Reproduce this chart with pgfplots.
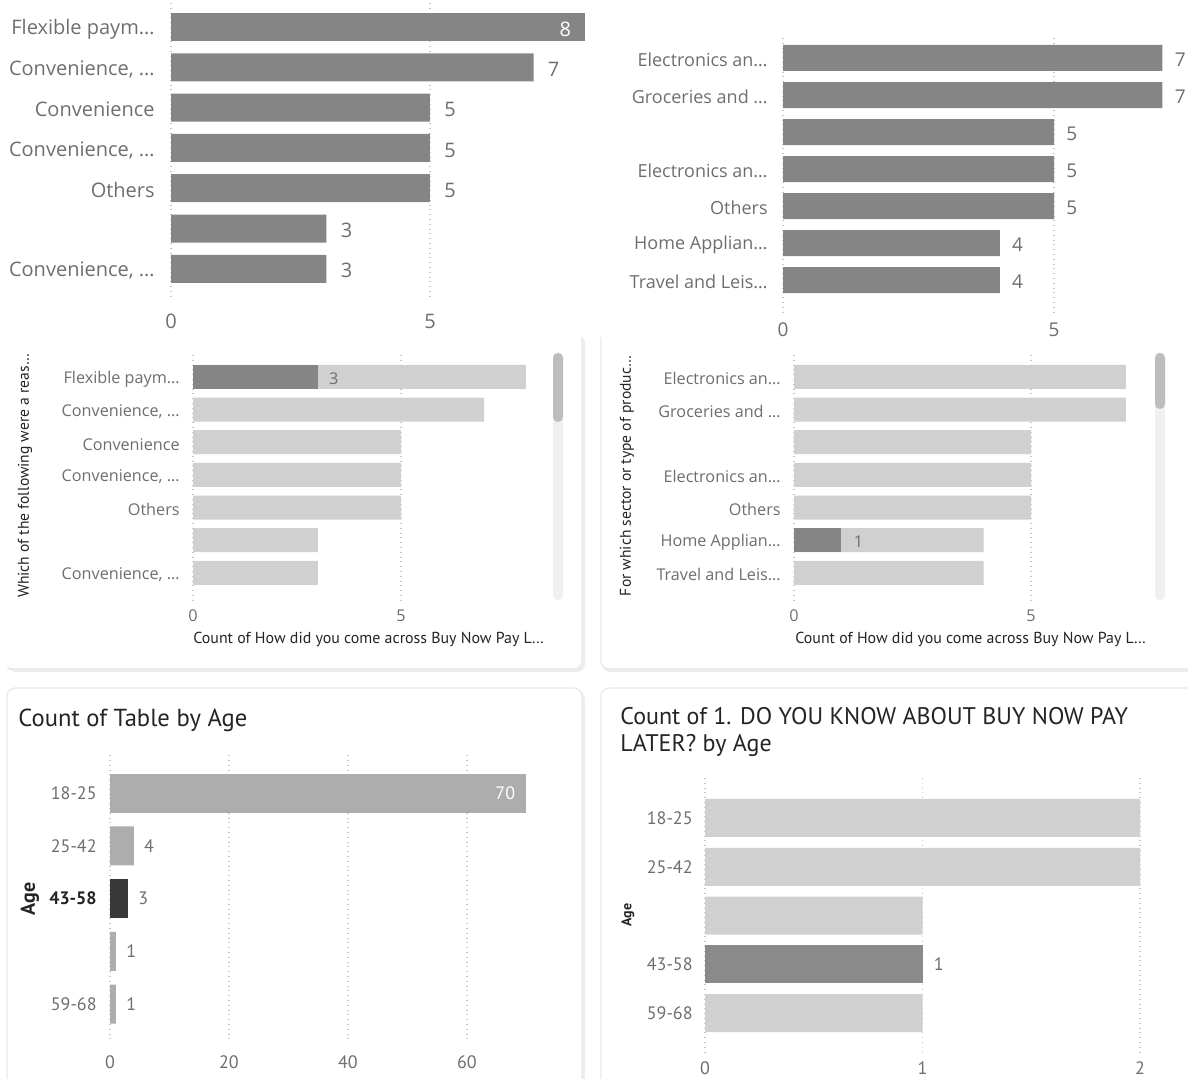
\documentclass[border=0pt]{standalone}
\usepackage{fontspec}
\setmainfont{Open Sans}
\newfontfamily\din{PT Sans}
\usepackage{pgfplots}
\pgfplotsset{compat=1.18}

\definecolor{barmid}{HTML}{858585}
\definecolor{barlite}{HTML}{D0D0D0}
\definecolor{barage}{HTML}{ADADAD}
\definecolor{bardark}{HTML}{383838}
\definecolor{barsel}{HTML}{8A8A8A}
\definecolor{lbl}{HTML}{6E6E6E}
\definecolor{ttl}{HTML}{252423}
\definecolor{gridc}{HTML}{C4C4C4}
\definecolor{track}{HTML}{F0F0F0}
\definecolor{thumb}{HTML}{BDBDBD}

\pgfplotsset{
  pbi/.style={
    scale only axis, xbar, y dir=reverse, xmin=0,
    axis line style={draw=none}, major tick length=0pt,
    xmajorgrids, major grid style={gridc, dotted, line width=0.7pt},
    /pgf/number format/assume math mode=true,
    tick label style={lbl, inner sep=0pt},
    clip=false, anchor=south west,
  },
}
\tikzset{
  card/.style={rounded corners=4pt, fill=white, draw=black!9, line width=0.6pt},
  shade/.style={rounded corners=4pt, fill=black!7},
}

\begin{document}
\begin{tikzpicture}
\useasboundingbox (0,0) rectangle (594pt,539.5pt);

% cards behind the lower four visuals (the middle pair open at the top)
\fill[shade] (4pt,203.5pt) rectangle (292.5pt,372pt);
\fill[white, rounded corners=4pt] (3.5pt,205pt) rectangle (291pt,380pt);
\draw[black!9, line width=0.6pt, rounded corners=4pt] (291pt,371pt) -- (291pt,205pt) -- (3.5pt,205pt);
\fill[shade] (301pt,203.5pt) rectangle (610pt,372pt);
\fill[white, rounded corners=4pt] (300.5pt,205pt) rectangle (610pt,380pt);
\draw[black!9, line width=0.6pt, rounded corners=4pt] (300.5pt,371pt) -- (300.5pt,205pt) -- (610pt,205pt);
\fill[shade] (4pt,-8pt) rectangle (292.5pt,194pt);
\path[card] (3.5pt,-6pt) rectangle (291pt,195.5pt);
\fill[shade] (301pt,-8pt) rectangle (610pt,194pt);
\path[card] (300.5pt,-6pt) rectangle (610pt,195.5pt);

% scroll bars
\fill[track, rounded corners=2.5pt] (276.5pt,239.5pt) rectangle (281.5pt,363.5pt);
\fill[thumb, rounded corners=2.5pt] (276.5pt,328.5pt) rectangle (281.5pt,363pt);
\fill[track, rounded corners=2.5pt] (577.5pt,239.5pt) rectangle (582.5pt,363.5pt);
\fill[thumb, rounded corners=2.5pt] (577.5pt,335pt) rectangle (582.5pt,363pt);

% reasons for using the service
\begin{axis}[pbi, at={(85.5pt,390pt)}, width=207.2pt, height=148pt,
  xmax=8, ymin=-0.6, ymax=6.75, xtick={0,5}, ytick={0,...,6},
  yticklabels={{Flexible paym…},{Convenience, …},{Convenience},{Convenience, …},{Others},{},{Convenience, …}},
  yticklabel style={anchor=east, xshift=-8pt, yshift=-1pt, font=\fontsize{10}{12}\selectfont},
  xticklabel style={anchor=center, yshift=-11pt, font=\fontsize{10}{12}\selectfont},
  bar width=14pt]
\addplot[fill=barmid, draw=none, bar shift=0pt, nodes near coords,
  nodes near coords style={anchor=east, white, inner sep=0pt, xshift=-7pt, yshift=-1pt, font=\fontsize{10}{12}\selectfont}]
  coordinates {(8,0)};
\addplot[fill=barmid, draw=none, bar shift=0pt, nodes near coords,
  nodes near coords style={anchor=west, lbl, inner sep=0pt, xshift=7pt, yshift=-1pt, font=\fontsize{10}{12}\selectfont}]
  coordinates {(7,1) (5,2) (5,3) (5,4) (3,5) (3,6)};
\end{axis}

% sectors or product types
\begin{axis}[pbi, at={(391.5pt,383.5pt)}, width=189.7pt, height=137pt,
  xmax=7, ymin=-0.54, ymax=6.86, xtick={0,5}, ytick={0,...,6},
  yticklabels={{Electronics an…},{Groceries and …},{},{Electronics an…},{Others},{Home Applian…},{Travel and Leis…}},
  yticklabel style={anchor=east, xshift=-7.5pt, yshift=-1pt, font=\fontsize{9}{11}\selectfont},
  xticklabel style={anchor=center, yshift=-9pt, font=\fontsize{9.5}{11}\selectfont},
  bar width=13pt]
\addplot[fill=barmid, draw=none, bar shift=0pt, nodes near coords,
  nodes near coords style={anchor=west, lbl, inner sep=0pt, xshift=6pt, yshift=-1pt, font=\fontsize{9.5}{11}\selectfont}]
  coordinates {(7,0) (7,1) (5,2) (5,3) (5,4) (4,5) (4,6)};
\end{axis}

% reasons, with the selected share
\begin{axis}[pbi, at={(96.5pt,239.5pt)}, width=166.4pt, height=122.5pt,
  xmax=8, ymin=-0.67, ymax=6.83, xtick={0,5}, ytick={0,...,6},
  yticklabels={{Flexible paym…},{Convenience, …},{Convenience},{Convenience, …},{Others},{},{Convenience, …}},
  yticklabel style={anchor=east, xshift=-6.5pt, yshift=-1pt, font=\fontsize{8.1}{10}\selectfont},
  xticklabel style={anchor=center, yshift=-8pt, font=\fontsize{8.1}{10}\selectfont},
  bar width=12pt]
\addplot[fill=barlite, draw=none, bar shift=0pt]
  coordinates {(8,0) (7,1) (5,2) (5,3) (5,4) (3,5) (3,6)};
\addplot[fill=barmid, draw=none, bar shift=0pt, nodes near coords,
  nodes near coords style={anchor=west, lbl, inner sep=0pt, xshift=5.5pt, yshift=-1pt, font=\fontsize{8.1}{10}\selectfont}]
  coordinates {(3,0)};
\end{axis}

% sectors, with the selected share
\begin{axis}[pbi, at={(397pt,239.5pt)}, width=165.9pt, height=122.5pt,
  xmax=7, ymin=-0.67, ymax=6.83, xtick={0,5}, ytick={0,...,6},
  yticklabels={{Electronics an…},{Groceries and …},{},{Electronics an…},{Others},{Home Applian…},{Travel and Leis…}},
  yticklabel style={anchor=east, xshift=-6.5pt, yshift=-1pt, font=\fontsize{8.1}{10}\selectfont},
  xticklabel style={anchor=center, yshift=-8pt, font=\fontsize{8.1}{10}\selectfont},
  bar width=12pt]
\addplot[fill=barlite, draw=none, bar shift=0pt]
  coordinates {(7,0) (7,1) (5,2) (5,3) (5,4) (4,5) (4,6)};
\addplot[fill=barmid, draw=none, bar shift=0pt, nodes near coords,
  nodes near coords style={anchor=west, lbl, inner sep=0pt, xshift=6pt, yshift=-1pt, font=\fontsize{8.1}{10}\selectfont}]
  coordinates {(1,5)};
\end{axis}

% respondents by age
\begin{axis}[pbi, at={(55pt,19.5pt)}, width=208.25pt, height=142.4pt,
  xmax=70, ymin=-0.72, ymax=4.68, xtick={0,20,40,60}, ytick={0,...,4},
  yticklabels={{18-25},{25-42},{\textcolor{ttl}{\bfseries 43-58}},{},{59-68}},
  yticklabel style={anchor=east, xshift=-6.5pt, font=\din\fontsize{9}{11}\selectfont},
  xticklabel style={anchor=center, yshift=-11pt, font=\din\fontsize{9}{11}\selectfont},
  bar width=19.5pt]
\addplot[fill=barage, draw=none, bar shift=0pt, nodes near coords,
  nodes near coords style={anchor=east, white, inner sep=0pt, xshift=-5.5pt, font=\din\fontsize{9}{11}\selectfont}]
  coordinates {(70,0)};
\addplot[fill=barage, draw=none, bar shift=0pt, nodes near coords,
  nodes near coords style={anchor=west, lbl, inner sep=0pt, xshift=5pt, font=\din\fontsize{9}{11}\selectfont}]
  coordinates {(4,1) (1,3) (1,4)};
\addplot[fill=bardark, draw=none, bar shift=0pt, nodes near coords,
  nodes near coords style={anchor=west, lbl, inner sep=0pt, xshift=5pt, font=\din\fontsize{9}{11}\selectfont}]
  coordinates {(3,2)};
\end{axis}

% awareness by age
\begin{axis}[pbi, at={(352.5pt,12pt)}, width=217.5pt, height=138.5pt,
  xmax=2, ymin=-0.82, ymax=4.86, xtick={0,1,2}, ytick={0,...,4},
  yticklabels={{18-25},{25-42},{},{43-58},{59-68}},
  yticklabel style={anchor=east, xshift=-6pt, font=\din\fontsize{9}{11}\selectfont},
  xticklabel style={anchor=center, yshift=-6.5pt, font=\din\fontsize{9}{11}\selectfont},
  bar width=19pt]
\addplot[fill=barlite, draw=none, bar shift=0pt]
  coordinates {(2,0) (2,1) (1,2) (1,4)};
\addplot[fill=barsel, draw=none, bar shift=0pt, nodes near coords,
  nodes near coords style={anchor=west, lbl, inner sep=0pt, xshift=5.5pt, font=\din\fontsize{9}{11}\selectfont}]
  coordinates {(1,3)};
\end{axis}

% titles and axis titles
\node[anchor=west, inner sep=0pt, ttl, font=\din\fontsize{12.3}{14}\selectfont] at (9pt,179.5pt) {Count of Table by Age};
\node[anchor=north west, inner sep=0pt, ttl, align=left, font=\din\fontsize{12}{13.5}\selectfont] at (310pt,186pt)
  {Count of 1. DO YOU KNOW ABOUT BUY NOW PAY\\LATER? by Age};
\node[anchor=west, inner sep=0pt, ttl, font=\din\fontsize{7.95}{9}\selectfont] at (96.5pt,220pt)
  {Count of How did you come across Buy Now Pay L…};
\node[anchor=west, inner sep=0pt, ttl, font=\din\fontsize{7.95}{9}\selectfont] at (397.5pt,220pt)
  {Count of How did you come across Buy Now Pay L…};
\node[rotate=90, inner sep=0pt, ttl, font=\din\fontsize{7.8}{9}\selectfont] at (12.5pt,301.5pt)
  {Which of the following were a reas…};
\node[rotate=90, inner sep=0pt, ttl, font=\din\fontsize{7.8}{9}\selectfont] at (313.5pt,301.5pt)
  {For which sector or type of produc…};
\node[rotate=90, inner sep=0pt, ttl, font=\din\bfseries\fontsize{10}{12}\selectfont] at (15pt,90pt) {Age};
\node[rotate=90, inner sep=0pt, ttl, font=\din\bfseries\fontsize{7}{9}\selectfont] at (314pt,82pt) {Age};
\end{tikzpicture}
\end{document}
